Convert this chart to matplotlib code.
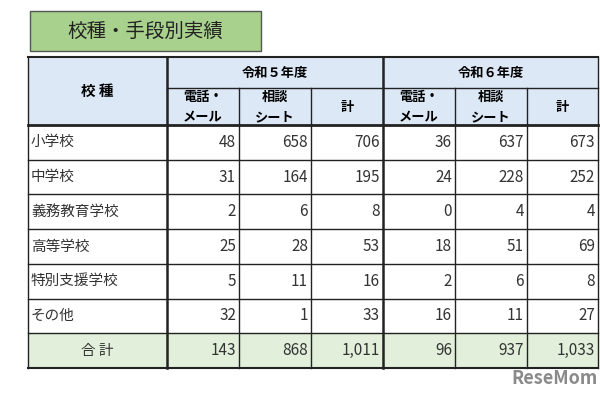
import matplotlib
matplotlib.use("Agg")
import matplotlib.pyplot as plt
from matplotlib.patches import Rectangle

plt.rcParams["font.family"] = "Noto Sans CJK JP"

title = "校種・手段別実績"
years = ["令和５年度", "令和６年度"]
subcols = ["電話・\nメール", "相談\nシート", "計"]
categories = ["小学校", "中学校", "義務教育学校", "高等学校", "特別支援学校", "その他"]
r5_phone = [48, 31, 2, 25, 5, 32]
r5_sheet = [658, 164, 6, 28, 11, 1]
r5_total = [706, 195, 8, 53, 16, 33]
r6_phone = [36, 24, 0, 18, 2, 16]
r6_sheet = [637, 228, 4, 51, 6, 11]
r6_total = [673, 252, 4, 69, 8, 27]
sum_label = "合 計"
sums = ["143", "868", "1,011", "96", "937", "1,033"]

fig = plt.figure(figsize=(6, 4), dpi=100)
ax = fig.add_axes([0, 0, 1, 1])
ax.set_xlim(0, 600); ax.set_ylim(400, 0); ax.axis("off")

# title box
ax.add_patch(Rectangle((30, 11), 231, 40, facecolor="#a9d18e", edgecolor="#555555", lw=1))
ax.text(145, 31, title, ha="center", va="center", fontsize=14, color="#222222")

xs = [28, 167, 239, 311, 383, 455, 527, 598]
top, mid, hb = 57, 88, 125
rh = (368 - hb) / 7
hdr = "#dce8f5"
ax.add_patch(Rectangle((xs[0], top), xs[-1] - xs[0], hb - top, facecolor=hdr, edgecolor="none"))
ax.add_patch(Rectangle((xs[0], hb + 6 * rh), xs[-1] - xs[0], rh, facecolor="#e2efda", edgecolor="none"))

ax.text((xs[0] + xs[1]) / 2, (top + hb) / 2, "校 種", ha="center", va="center", fontsize=10.5, fontweight="bold")
for k, y in enumerate(years):
    ax.text((xs[1 + 3 * k] + xs[4 + 3 * k]) / 2, (top + mid) / 2, y, ha="center", va="center", fontsize=9.5, fontweight="bold")
    for j, s in enumerate(subcols):
        ax.text((xs[1 + 3 * k + j] + xs[2 + 3 * k + j]) / 2, (mid + hb) / 2 + 1, s, ha="center", va="center",
                fontsize=9.5, fontweight="bold", linespacing=1.6)

cols = [r5_phone, r5_sheet, r5_total, r6_phone, r6_sheet, r6_total]
for i, c in enumerate(categories):
    yc = hb + (i + 0.5) * rh
    ax.text(xs[0] + 3, yc, c, ha="left", va="center", fontsize=10.5, color="#333333")
    for j, col in enumerate(cols):
        ax.text(xs[j + 2] - 3, yc, f"{col[i]:,}", ha="right", va="center", fontsize=11, color="#333333")
yc = hb + 6.5 * rh
ax.text((xs[0] + xs[1]) / 2, yc, sum_label, ha="center", va="center", fontsize=10.5, color="#333333")
for j, s in enumerate(sums):
    ax.text(xs[j + 2] - 3, yc, s, ha="right", va="center", fontsize=11, color="#333333")

lc = "#222222"
ax.plot([xs[0], xs[-1]], [top, top], color=lc, lw=1.5)
ax.plot([xs[1], xs[-1]], [mid, mid], color=lc, lw=1)
ax.plot([xs[0], xs[-1]], [hb, hb], color=lc, lw=2)
for i in range(1, 8):
    ax.plot([xs[0], xs[-1]], [hb + i * rh] * 2, color=lc, lw=1 if i < 7 else 1.5)
bottom = hb + 7 * rh
for k, x in enumerate(xs):
    y0 = top if k in (0, 1, 4, 7) else mid
    ax.plot([x, x], [y0, bottom], color=lc, lw=1.8 if k in (1, 4) else 1)

ax.text(598, 378, "ReseMom", ha="right", va="center", fontsize=13, fontweight="bold", color="#8a8a8a")

fig.savefig("out.png", dpi=100)
